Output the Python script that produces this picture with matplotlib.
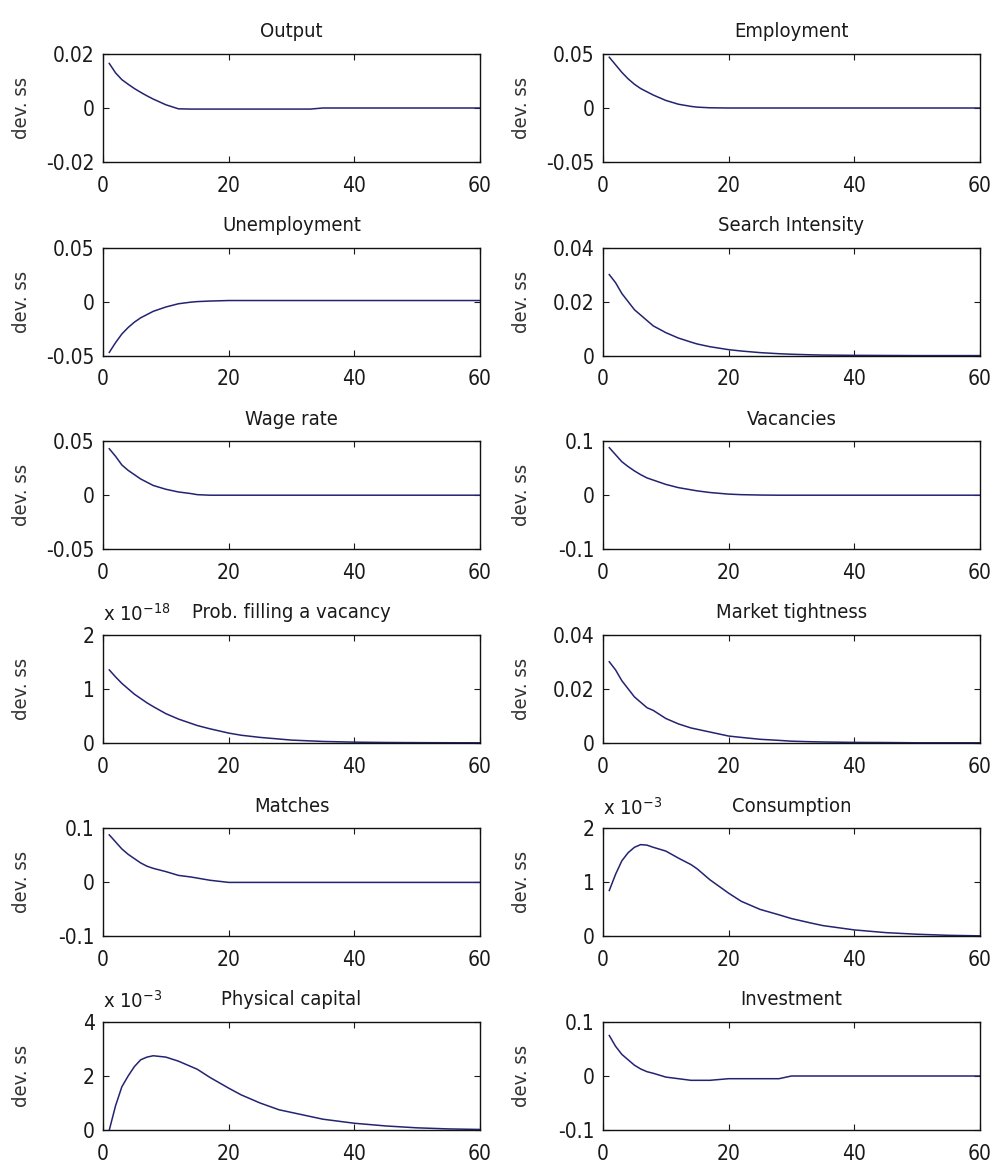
import matplotlib.pyplot as plt
from matplotlib import font_manager
import numpy as np

# font: a condensed sans if one is installed, like the old matlab screen font
fam, stretch = 'Liberation Sans', 'normal'
for f in font_manager.fontManager.ttflist:
    if f.name in ('Liberation Sans Narrow', 'DejaVu Sans') and str(f.stretch) in ('condensed', 'semi-condensed', '75', '87'):
        fam, stretch = f.name, f.stretch
        break
plt.rcParams['font.family'] = [fam, 'DejaVu Sans']
plt.rcParams['font.stretch'] = stretch

# periods
periods = [1, 2, 3, 4, 5, 6, 7, 8, 10, 12, 14, 15, 17, 20, 22, 25, 28, 30, 33, 35, 40, 45, 50, 55, 60]

output = [0.0165, 0.0130, 0.0105, 0.0088, 0.0072, 0.0058, 0.0045, 0.0033, 0.0012, -0.0003, -0.0004, -0.0004,
          -0.0004, -0.0004, -0.0004, -0.0004, -0.0004, -0.0004, -0.0004, 0.0, 0.0, 0.0, 0.0, 0.0, 0.0]
employment = [0.047, 0.040, 0.033, 0.027, 0.022, 0.018, 0.015, 0.012, 0.007, 0.0035, 0.0015, 0.0008,
              0.0002, 0.0, 0.0, 0.0, 0.0, 0.0, 0.0, 0.0, 0.0, 0.0, 0.0, 0.0, 0.0]
unemployment = [-0.047, -0.038, -0.030, -0.024, -0.019, -0.015, -0.012, -0.009, -0.005, -0.002, -0.0005, 0.0,
                0.0005, 0.001, 0.001, 0.001, 0.001, 0.001, 0.001, 0.001, 0.001, 0.001, 0.001, 0.001, 0.001]
search = [0.030, 0.027, 0.023, 0.020, 0.017, 0.015, 0.013, 0.011, 0.0085, 0.0065, 0.005, 0.0043,
          0.0033, 0.0022, 0.0017, 0.0011, 0.0007, 0.0005, 0.0003, 0.0002, 0.0001, 0.00005, 0.0, 0.0, 0.0]
wage = [0.043, 0.036, 0.028, 0.023, 0.019, 0.015, 0.012, 0.009, 0.0055, 0.003, 0.0015, 0.0005,
        0.0, 0.0, 0.0, 0.0, 0.0, 0.0, 0.0, 0.0, 0.0, 0.0, 0.0, 0.0, 0.0]
vacancies = [0.088, 0.075, 0.062, 0.053, 0.045, 0.038, 0.032, 0.028, 0.020, 0.014, 0.010, 0.008,
             0.005, 0.002, 0.001, 0.0003, 0.0, 0.0, 0.0, 0.0, 0.0, 0.0, 0.0, 0.0, 0.0]
prob_fill = [1.35e-18, 1.22e-18, 1.10e-18, 1.00e-18, 0.90e-18, 0.82e-18, 0.74e-18, 0.67e-18, 0.54e-18,
             0.44e-18, 0.36e-18, 0.32e-18, 0.26e-18, 0.18e-18, 0.14e-18, 0.10e-18, 0.07e-18, 0.05e-18,
             0.035e-18, 0.025e-18, 0.012e-18, 0.006e-18, 0.003e-18, 0.001e-18, 0.0]
tightness = [0.030, 0.027, 0.023, 0.020, 0.017, 0.015, 0.013, 0.012, 0.009, 0.007, 0.0055, 0.005,
             0.004, 0.0025, 0.002, 0.0013, 0.0009, 0.0006, 0.0004, 0.0003, 0.00015, 0.0001, 0.0, 0.0, 0.0]
matches = [0.088, 0.075, 0.062, 0.052, 0.044, 0.036, 0.030, 0.026, 0.020, 0.013, 0.010, 0.008,
           0.004, 0.0, 0.0, 0.0, 0.0, 0.0, 0.0, 0.0, 0.0, 0.0, 0.0, 0.0, 0.0]
consumption = [0.85e-3, 1.15e-3, 1.40e-3, 1.55e-3, 1.65e-3, 1.70e-3, 1.69e-3, 1.65e-3, 1.58e-3, 1.45e-3,
               1.33e-3, 1.25e-3, 1.05e-3, 0.80e-3, 0.65e-3, 0.50e-3, 0.40e-3, 0.33e-3, 0.25e-3, 0.20e-3,
               0.12e-3, 0.07e-3, 0.04e-3, 0.02e-3, 0.01e-3]
capital = [0.0, 0.9e-3, 1.6e-3, 2.0e-3, 2.35e-3, 2.6e-3, 2.7e-3, 2.75e-3, 2.7e-3, 2.55e-3, 2.35e-3, 2.25e-3,
           1.95e-3, 1.55e-3, 1.3e-3, 1.0e-3, 0.75e-3, 0.65e-3, 0.5e-3, 0.4e-3, 0.25e-3, 0.15e-3, 0.08e-3,
           0.04e-3, 0.02e-3]
investment = [0.075, 0.055, 0.040, 0.030, 0.020, 0.013, 0.008, 0.005, -0.002, -0.005, -0.008, -0.008,
              -0.008, -0.005, -0.005, -0.005, -0.005, 0.0, 0.0, 0.0, 0.0, 0.0, 0.0, 0.0, 0.0]

titles = ['Output', 'Employment', 'Unemployment', 'Search Intensity', 'Wage rate', 'Vacancies',
          'Prob. filling a vacancy', 'Market tightness', 'Matches', 'Consumption',
          'Physical capital', 'Investment']
series = [output, employment, unemployment, search, wage, vacancies,
          prob_fill, tightness, matches, consumption, capital, investment]
# y ranges as in the picture (lower, upper)
yranges = [(-0.02, 0.02), (-0.05, 0.05), (-0.05, 0.05), (0, 0.04), (-0.05, 0.05), (-0.1, 0.1),
           (0, 2e-18), (0, 0.04), (-0.1, 0.1), (0, 2e-3), (0, 4e-3), (-0.1, 0.1)]
# exponent shown above the axis, 0 = none
exponents = [0, 0, 0, 0, 0, 0, -18, 0, 0, -3, -3, 0]
xticks = [0, 20, 40, 60]

fig = plt.figure(figsize=(9.95, 11.7), dpi=100)

W, H = 995.0, 1170.0
lefts = [103, 603]
width = 377
height = 108
bottom0 = 162      # bottom of first row, px from top
pitch = 193.6

line_col = '#232372'
txt_col = '#1a1a1a'

for i in range(12):
    r, c = divmod(i, 2)
    bot_px = bottom0 + r * pitch
    ax = fig.add_axes([lefts[c] / W, 1 - bot_px / H, width / W, height / H])
    ax.plot(periods, series[i], color=line_col, linewidth=1.1)

    lo, hi = yranges[i]
    ax.set_xlim(0, 60)
    ax.set_ylim(lo, hi)
    ax.set_xticks(xticks)
    ax.set_xticklabels([str(t) for t in xticks])
    yt = [lo, (lo + hi) / 2, hi]
    scale = 10.0 ** exponents[i]
    ax.set_yticks(yt)
    ax.set_yticklabels(['%g' % round(v / scale, 6) for v in yt])

    ax.tick_params(direction='in', top=True, right=True, length=4, width=0.8,
                   labelsize=15, colors=txt_col)
    ax.tick_params(axis='x', pad=10)
    ax.tick_params(axis='y', pad=6)
    for s in ax.spines.values():
        s.set_linewidth(1.0)
        s.set_color('#111111')

    ax.set_title(titles[i], fontsize=14.5, color=txt_col, pad=12)
    ax.set_ylabel('dev. ss', fontsize=14.5, color='#333333')
    ax.yaxis.set_label_coords(-0.19, 0.5)

    if exponents[i] != 0:
        ax.text(0.0, 1.09, r'x 10$^{\mathregular{%d}}$' % exponents[i], transform=ax.transAxes,
                fontsize=14.5, color=txt_col, ha='left', va='bottom')

fig.savefig('out.png', dpi=100, facecolor='white')
